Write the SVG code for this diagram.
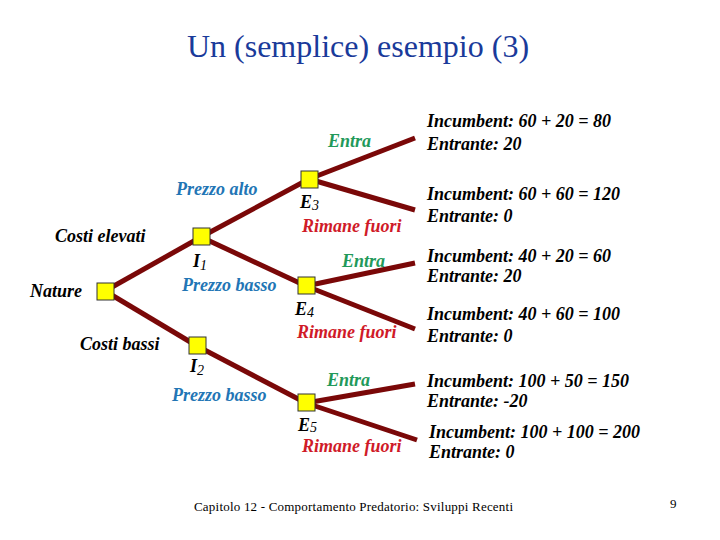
<svg xmlns="http://www.w3.org/2000/svg" width="720" height="540" viewBox="0 0 720 540">
<style>
text{font-family:"Liberation Serif",Tinos,"Times New Roman",Times,"DejaVu Serif",serif}
.lbl{font-size:18px;font-weight:bold;font-style:italic}
.k{fill:#000}
.g{fill:#22995a}
.b{fill:#2275b5}
.r{fill:#d01a28}
.sub{font-size:14px;font-weight:normal;font-style:italic}
.pay{font-size:18px;font-weight:bold;font-style:italic;fill:#000}
.edge{stroke:#7a0808;stroke-width:5;fill:none;stroke-linecap:butt}
.node{fill:#ffff00;stroke:#333;stroke-width:1}
</style>
<rect width="720" height="540" fill="#fff"/>
<text x="358" y="57" text-anchor="middle" font-size="32" fill="#1a3a9a">Un (semplice) esempio (3)</text>
<g id="connectors">
<line class="edge" x1="105" y1="291" x2="201" y2="237"/>
<line class="edge" x1="105" y1="291" x2="197" y2="346"/>
<line class="edge" x1="201" y1="237" x2="309" y2="179"/>
<line class="edge" x1="201" y1="237" x2="306" y2="286"/>
<line class="edge" x1="197" y1="346" x2="306" y2="403"/>
<line class="edge" x1="309" y1="179" x2="415" y2="138"/>
<line class="edge" x1="309" y1="179" x2="415" y2="210"/>
<line class="edge" x1="306" y1="286" x2="415" y2="263"/>
<line class="edge" x1="306" y1="286" x2="415" y2="329"/>
<line class="edge" x1="306" y1="403" x2="415" y2="384"/>
<line class="edge" x1="306" y1="403" x2="417" y2="440"/>
</g>
<g id="nature"><rect class="node" x="97" y="283" width="17" height="17"/><text class="lbl k" x="30" y="297">Nature</text></g>
<g id="I1"><rect class="node" x="193" y="228" width="17" height="17"/><text class="lbl k" x="193" y="267">I<tspan class="sub" dy="3">1</tspan></text></g>
<g id="I2"><rect class="node" x="189" y="337" width="17" height="17"/><text class="lbl k" x="190" y="372">I<tspan class="sub" dy="3">2</tspan></text></g>
<g id="E3"><rect class="node" x="301" y="171" width="17" height="17"/><text class="lbl k" x="300" y="208">E<tspan class="sub" dy="2">3</tspan></text></g>
<g id="E4"><rect class="node" x="298" y="277" width="17" height="17"/><text class="lbl k" x="295" y="315">E<tspan class="sub" dy="2">4</tspan></text></g>
<g id="E5"><rect class="node" x="298" y="394" width="17" height="17"/><text class="lbl k" x="298" y="431">E<tspan class="sub" dy="1">5</tspan></text></g>
<g id="labels">
<text class="lbl k" x="55" y="242">Costi elevati</text>
<text class="lbl k" x="80" y="350">Costi bassi</text>
<text class="lbl b" x="176" y="195">Prezzo alto</text>
<text class="lbl b" x="182" y="291">Prezzo basso</text>
<text class="lbl b" x="172" y="401">Prezzo basso</text>
<text class="lbl g" x="328" y="147">Entra</text>
<text class="lbl g" x="342" y="267">Entra</text>
<text class="lbl g" x="327" y="386">Entra</text>
<text class="lbl r" x="302" y="232">Rimane fuori</text>
<text class="lbl r" x="297" y="338">Rimane fuori</text>
<text class="lbl r" x="302" y="452">Rimane fuori</text>
</g>
<g id="payoffs">
<text class="pay" x="427" y="127">Incumbent: 60 + 20 = 80</text>
<text class="pay" x="427" y="150">Entrante: 20</text>
<text class="pay" x="427" y="200">Incumbent: 60 + 60 = 120</text>
<text class="pay" x="427" y="222">Entrante: 0</text>
<text class="pay" x="427" y="262">Incumbent: 40 + 20 = 60</text>
<text class="pay" x="427" y="282">Entrante: 20</text>
<text class="pay" x="427" y="320">Incumbent: 40 + 60 = 100</text>
<text class="pay" x="427" y="342">Entrante: 0</text>
<text class="pay" x="427" y="387">Incumbent: 100 + 50 = 150</text>
<text class="pay" x="427" y="407">Entrante: -20</text>
<text class="pay" x="429" y="438">Incumbent: 100 + 100 = 200</text>
<text class="pay" x="429" y="458">Entrante: 0</text>
</g>
<text x="194" y="511" font-size="13" fill="#000" textLength="319">Capitolo 12 - Comportamento Predatorio: Sviluppi Recenti</text>
<text x="670" y="508" font-size="13" fill="#000">9</text>
</svg>
